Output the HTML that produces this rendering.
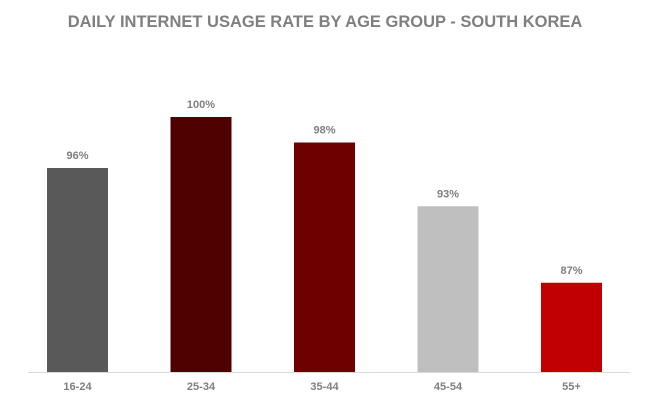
<!DOCTYPE html>
<html><head><meta charset="utf-8"><style>
body{margin:0;background:#fff;}
svg{display:block;font-family:"Liberation Sans",Arial,sans-serif;}
</style></head><body>
<svg id="chart" width="650" height="408">
<text x="325" y="27" text-anchor="middle" font-size="16.5" font-weight="bold" fill="#7f7f7f">DAILY INTERNET USAGE RATE BY AGE GROUP - SOUTH KOREA</text>
<line x1="28" x2="630" y1="372.5" y2="372.5" stroke="#d9d9d9" stroke-width="1"/>
<g id="bars"></g>
</svg>
<script>
const categories = ["16-24","25-34","35-44","45-54","55+"];
const values = [96,100,98,93,87];
const valueLabels = ["96%","100%","98%","93%","87%"];
const colors = ["#595959","#4f0000","#6e0000","#bfbfbf","#c00000"];
const yMin = 80, yMax = 100, y0 = 372, y1 = 117;
function yScale(v){ return y0 - (v - yMin) / (yMax - yMin) * (y0 - y1); }
function xCenter(i){ return 77.5 + i * 123.5; }
const barW = 61;
const ns = "http://www.w3.org/2000/svg";
const g = document.getElementById("bars");
categories.forEach((c, i) => {
  const y = yScale(values[i]);
  const r = document.createElementNS(ns, "rect");
  r.setAttribute("x", xCenter(i) - barW / 2);
  r.setAttribute("y", y);
  r.setAttribute("width", barW);
  r.setAttribute("height", y0 - y);
  r.setAttribute("fill", colors[i]);
  
  
  g.appendChild(r);
  const t = document.createElementNS(ns, "text");
  t.setAttribute("x", xCenter(i));
  t.setAttribute("y", y - 9);
  t.setAttribute("text-anchor", "middle");
  t.setAttribute("font-size", "11");
  t.setAttribute("font-weight", "bold");
  t.setAttribute("fill", "#7f7f7f");
  t.textContent = valueLabels[i];
  
  
  g.appendChild(t);
  const l = document.createElementNS(ns, "text");
  l.setAttribute("x", xCenter(i));
  l.setAttribute("y", 390);
  l.setAttribute("text-anchor", "middle");
  l.setAttribute("font-size", "11");
  l.setAttribute("font-weight", "bold");
  l.setAttribute("fill", "#7f7f7f");
  l.textContent = c;
  
  
  g.appendChild(l);
});
</script>
</body></html>
